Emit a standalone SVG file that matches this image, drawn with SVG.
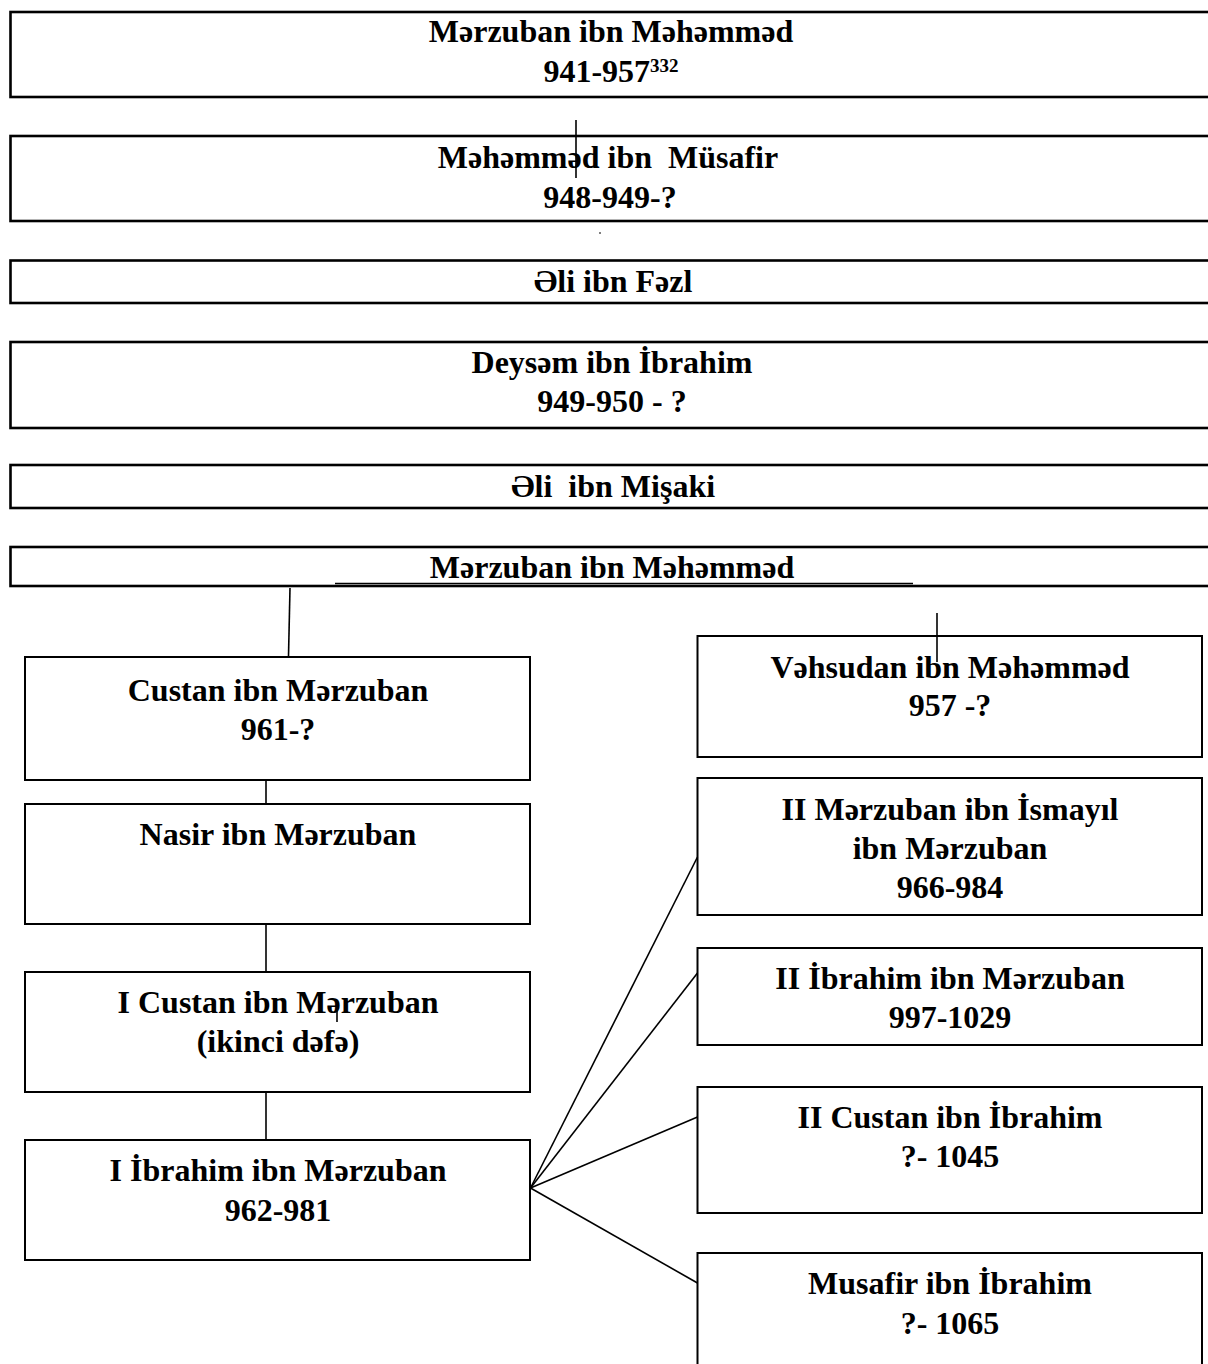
<svg xmlns="http://www.w3.org/2000/svg" width="1208" height="1364" viewBox="0 0 1208 1364">
<style>
.bg{fill:#fff}
.tb{fill:#fff;stroke:#000;stroke-width:2.6}
.nb{fill:#fff;stroke:#000;stroke-width:2}
.t{font-family:"Liberation Serif","Times New Roman",serif;font-weight:bold;font-size:32px;fill:#000;text-anchor:middle}
.c{stroke:#000;stroke-width:1.6;fill:none}
</style>
<rect class="bg" x="0" y="0" width="1208" height="1364"/>
<g id="n1"><rect class="tb" x="10.5" y="12" width="1210" height="85"/>
<text class="t" x="611" y="42">Mərzuban ibn Məhəmməd</text>
<text class="t" x="611" y="82">941-957<tspan font-size="19" dy="-10">332</tspan></text></g>
<g id="n2"><rect class="tb" x="10.5" y="136" width="1210" height="85"/>
<text class="t" x="608" y="168" xml:space="preserve">Məhəmməd ibn  Müsafir</text>
<text class="t" x="610" y="208">948-949-?</text></g>
<g id="n3"><rect class="tb" x="10.5" y="260.5" width="1210" height="42.5"/>
<text class="t" x="613" y="292">Əli ibn Fəzl</text></g>
<g id="n4"><rect class="tb" x="10.5" y="342" width="1210" height="86"/>
<text class="t" x="612" y="373">Deysəm ibn İbrahim</text>
<text class="t" x="612" y="412">949-950 - ?</text></g>
<g id="n5"><rect class="tb" x="10.5" y="465" width="1210" height="43"/>
<text class="t" x="613" y="497" xml:space="preserve">Əli  ibn Mişaki</text></g>
<g id="n6"><rect class="tb" x="10.5" y="547" width="1210" height="39"/>
<text class="t" x="612" y="578">Mərzuban ibn Məhəmməd</text>
<line x1="335" y1="583.5" x2="913" y2="583.5" stroke="#000" stroke-width="1.5"/></g>
<g id="n7"><rect class="nb" x="25" y="657" width="505" height="123"/>
<text class="t" x="278" y="701">Custan ibn Mərzuban</text>
<text class="t" x="278" y="740">961-?</text></g>
<g id="n8"><rect class="nb" x="25" y="804" width="505" height="120"/>
<text class="t" x="278" y="845">Nasir ibn Mərzuban</text></g>
<g id="n9"><rect class="nb" x="25" y="972" width="505" height="120"/>
<text class="t" x="278" y="1013">I Custan ibn Mərzuban</text>
<text class="t" x="278" y="1052">(ikinci dəfə)</text></g>
<g id="n10"><rect class="nb" x="25" y="1140" width="505" height="120"/>
<text class="t" x="278" y="1181">I İbrahim ibn Mərzuban</text>
<text class="t" x="278" y="1221">962-981</text></g>
<g id="n11"><rect class="nb" x="697.5" y="636" width="504.5" height="121"/>
<text class="t" x="950" y="678">Vəhsudan ibn Məhəmməd</text>
<text class="t" x="950" y="716">957 -?</text></g>
<g id="n12"><rect class="nb" x="697.5" y="778" width="504.5" height="137"/>
<text class="t" x="950" y="820">II Mərzuban ibn İsmayıl</text>
<text class="t" x="950" y="859">ibn Mərzuban</text>
<text class="t" x="950" y="898">966-984</text></g>
<g id="n13"><rect class="nb" x="697.5" y="948" width="504.5" height="97"/>
<text class="t" x="950" y="989">II İbrahim ibn Mərzuban</text>
<text class="t" x="950" y="1028">997-1029</text></g>
<g id="n14"><rect class="nb" x="697.5" y="1087" width="504.5" height="126"/>
<text class="t" x="950" y="1128">II Custan ibn İbrahim</text>
<text class="t" x="950" y="1167">?- 1045</text></g>
<g id="n15"><rect class="nb" x="697.5" y="1253" width="504.5" height="130"/>
<text class="t" x="950" y="1294">Musafir ibn İbrahim</text>
<text class="t" x="950" y="1334">?- 1065</text></g>
<g id="connectors">
<line class="c" x1="576" y1="120" x2="576" y2="178" stroke-width="2"/>
<rect x="599.5" y="232" width="1" height="2" fill="#000"/>
<line class="c" x1="290" y1="588" x2="288.5" y2="656"/>
<line class="c" x1="937" y1="613" x2="937" y2="662"/>
<line class="c" x1="266" y1="780" x2="266" y2="804"/>
<line class="c" x1="266" y1="924" x2="266" y2="972"/>
<line class="c" x1="337" y1="1003" x2="337" y2="1022"/>
<line class="c" x1="266" y1="1092" x2="266" y2="1140"/>
<line class="c" x1="530.5" y1="1188" x2="697.5" y2="857"/>
<line class="c" x1="530.5" y1="1188" x2="697.5" y2="973"/>
<line class="c" x1="530.5" y1="1188" x2="697.5" y2="1117"/>
<line class="c" x1="530.5" y1="1188" x2="697.5" y2="1283"/>
</g>
</svg>
